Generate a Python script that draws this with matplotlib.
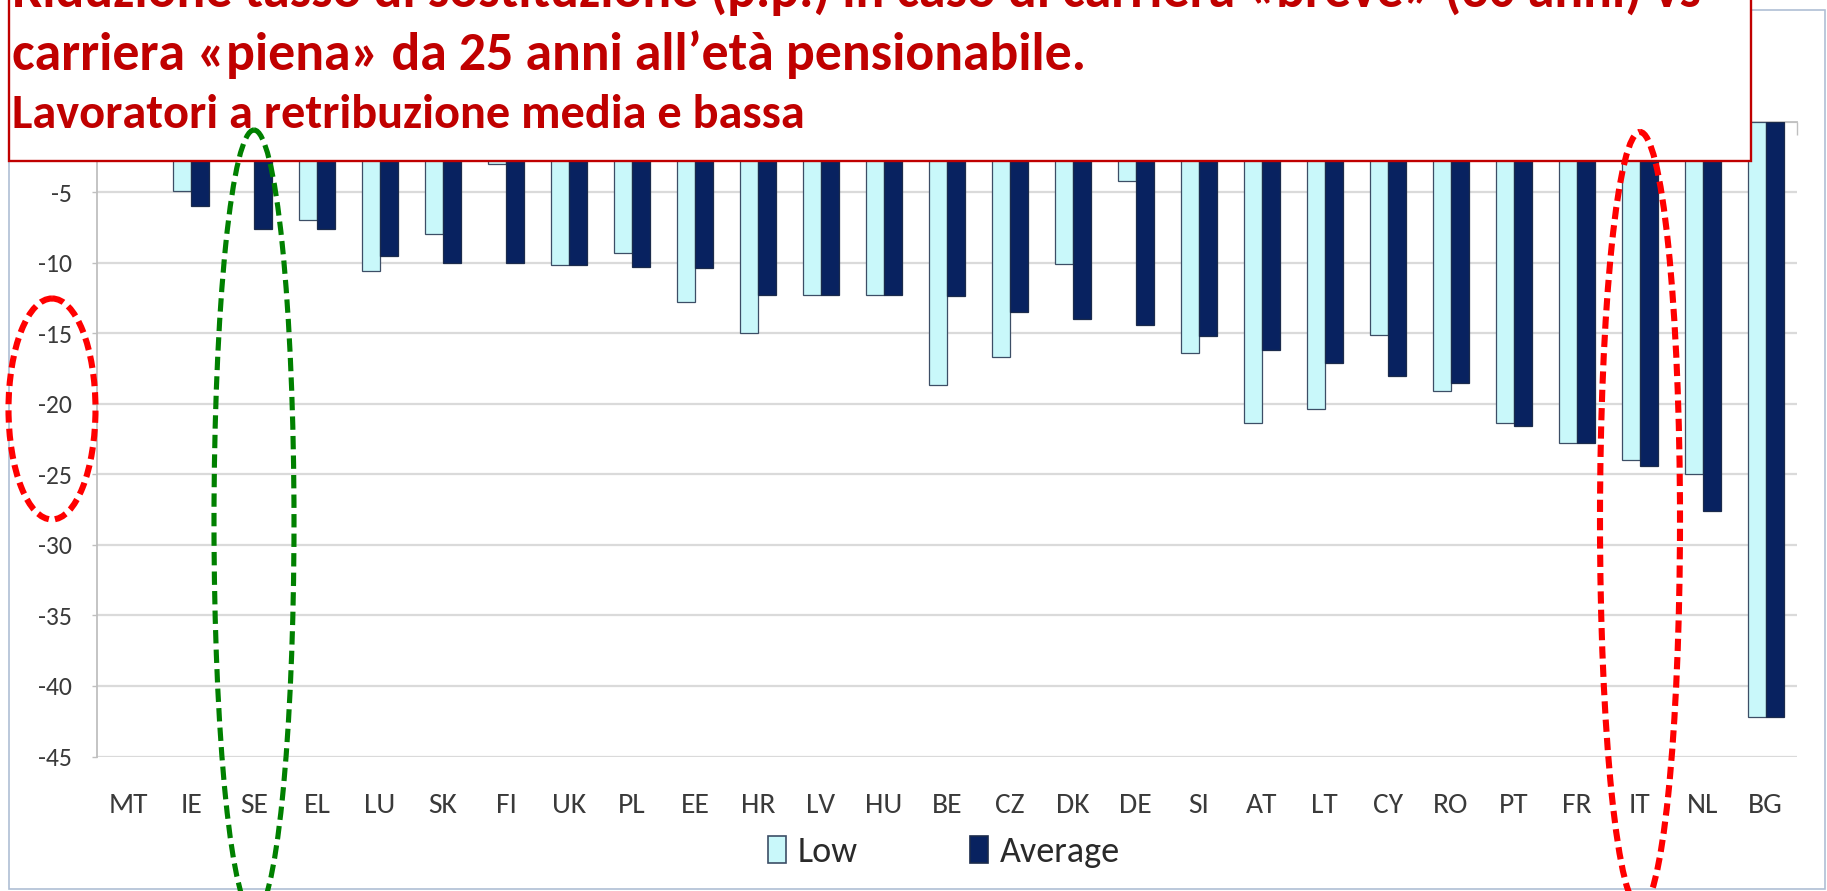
import numpy as np
import matplotlib
matplotlib.use('Agg')
import matplotlib.pyplot as plt
from matplotlib import font_manager
from matplotlib.patches import Rectangle, Ellipse, Patch

# ---------------- data ----------------
countries = ['MT', 'IE', 'SE', 'EL', 'LU', 'SK', 'FI', 'UK', 'PL', 'EE', 'HR', 'LV', 'HU', 'BE',
             'CZ', 'DK', 'DE', 'SI', 'AT', 'LT', 'CY', 'RO', 'PT', 'FR', 'IT', 'NL', 'BG']
low = [0.0, -4.9, -1.5, -7.0, -10.6, -8.0, -3.0, -10.2, -9.3, -12.8, -15.0, -12.3, -12.3, -18.7,
       -16.7, -10.1, -4.2, -16.4, -21.4, -20.4, -15.1, -19.1, -21.4, -22.8, -24.0, -25.0, -42.2]
average = [0.0, -6.0, -7.6, -7.6, -9.5, -10.0, -10.0, -10.2, -10.3, -10.4, -12.3, -12.3, -12.3, -12.4,
           -13.5, -14.0, -14.4, -15.2, -16.2, -17.1, -18.0, -18.5, -21.6, -22.8, -24.4, -27.6, -42.2]
series_names = ['Low', 'Average']
yticks = list(range(-45, 1, 5))
title_lines = ['Riduzione tasso di sostituzione (p.p.) in caso di carriera «breve» (30 anni) vs',
               'carriera «piena» da 25 anni all’età pensionabile.']
subtitle = 'Lavoratori a retribuzione media e bassa'

# ---------------- fonts ----------------
avail = {f.name for f in font_manager.fontManager.ttflist}
def pick(*names):
    for n in names:
        if n in avail:
            return n
    return 'DejaVu Sans'
BODY = pick('Carlito', 'Lato', 'Liberation Sans')
TITLE = pick('Carlito', 'Liberation Sans Narrow', 'Lato', 'Liberation Sans')

W, H = 1827, 891
fig = plt.figure(figsize=(W / 100, H / 100), dpi=100)
fig.patch.set_facecolor('white')
renderer = fig.canvas.get_renderer()

def fit_size(text, target_px, family, weight='normal', base=20.0):
    t = fig.text(0, 0, text, fontsize=base, family=[family, 'DejaVu Sans'], weight=weight)
    w = t.get_window_extent(renderer).width
    t.remove()
    return base * target_px / w

ytick_fs = fit_size('-10', 34, BODY)
xtick_fs = fit_size('BE', 30.5, BODY)
legend_fs = fit_size('Average', 120, BODY)

# ---------------- main axes ----------------
left, right, top, bottom = 96.7, 1797.0, 121.5, 756.5
ax = fig.add_axes([left / W, 1 - bottom / H, (right - left) / W, (bottom - top) / H])

LOW_FC, LOW_EC = '#C9F8FA', '#3C4E66'
AVG_FC, AVG_EC = '#082260', '#1B2B4C'
x = np.arange(len(countries))
bw = 1 / 3.5
ax.bar(x - bw / 2, low, width=bw, color=LOW_FC, edgecolor=LOW_EC, linewidth=0.9, zorder=3)
ax.bar(x + bw / 2, average, width=bw, color=AVG_FC, edgecolor=AVG_EC, linewidth=0.9, zorder=3)

ax.set_xlim(-0.5, len(countries) - 0.5)
ax.set_ylim(-45, 0)
ax.set_yticks(yticks)
ax.set_yticklabels([str(v) if v != 0 else '' for v in yticks])
ax.yaxis.grid(True, color='#DADADA', linewidth=1.6)
ax.set_axisbelow(True)

for s in ['right', 'bottom']:
    ax.spines[s].set_visible(False)
for s in ['left', 'top']:
    ax.spines[s].set_color('#BFBFBF')
    ax.spines[s].set_linewidth(1.3)

ax.set_xticks(x)
ax.set_xticklabels(countries)
ax.set_xticks(np.arange(-0.5, len(countries), 1), minor=True)
ax.tick_params(axis='x', which='major', bottom=True, top=False, length=0, pad=26,
               labelsize=xtick_fs, labelcolor='#3A3A3A')
ax.tick_params(axis='x', which='minor', bottom=False, top=True, direction='in',
               length=9.5, width=1, color='#BFBFBF')
ax.tick_params(axis='y', which='major', direction='out', length=3.6, width=1, color='#BFBFBF',
               pad=14, labelsize=ytick_fs, labelcolor='#3A3A3A')
for lab in ax.get_xticklabels() + ax.get_yticklabels():
    lab.set_family([BODY, 'DejaVu Sans'])

handles = [Patch(facecolor=LOW_FC, edgecolor=LOW_EC, linewidth=1.2, label=series_names[0]),
           Patch(facecolor=AVG_FC, edgecolor=AVG_EC, linewidth=1.2, label=series_names[1])]
leg = fig.legend(handles=handles, loc='center', bbox_to_anchor=(944 / W, 1 - 852 / H), ncol=2,
                 frameon=False, handlelength=0.5, handleheight=0.78, handletextpad=0.32,
                 columnspacing=3.1, borderpad=0, prop={'family': [BODY, 'DejaVu Sans'], 'size': legend_fs})
for t in leg.get_texts():
    t.set_color('#2A2A2A')

# ---------------- overlay (box, title, ellipses) ----------------
ov = fig.add_axes([0, 0, 1, 1], zorder=10)
ov.set_xlim(0, W)
ov.set_ylim(H, 0)
ov.axis('off')

ov.add_patch(Rectangle((9, 10), 1816, 879, fill=False, edgecolor='#AFBFD4', linewidth=1.2, zorder=1))
ov.add_patch(Rectangle((9, -10), 1751 - 9, 161 + 10, facecolor='white', edgecolor='#C00000',
                       linewidth=1.7, zorder=2))

RED_T = '#C00000'
tfam = [TITLE, 'DejaVu Sans']
fs1 = fit_size(title_lines[0], 1701 - 12, TITLE, 'bold')
fs2 = fit_size(title_lines[1], 1089 - 12, TITLE, 'bold')
fs_t = (fs1 + fs2) / 2
fs_s = fit_size(subtitle, 807 - 12, TITLE, 'bold')
ov.text(12, 7, title_lines[0], fontsize=fs_t, family=tfam, weight='bold', color=RED_T,
        ha='left', va='baseline', zorder=3)
ov.text(12, 70, title_lines[1], fontsize=fs_t, family=tfam, weight='bold', color=RED_T,
        ha='left', va='baseline', zorder=3)
ov.text(12, 128, subtitle, fontsize=fs_s, family=tfam, weight='bold', color=RED_T,
        ha='left', va='baseline', zorder=3)

ov.add_patch(Ellipse((52, 409), 87, 221, fill=False, edgecolor='#FF0000', linewidth=4.4,
                     linestyle=(0, (2.0, 1.0)), zorder=5))
ov.add_patch(Ellipse((254, 522), 80, 784, fill=False, edgecolor='#008000', linewidth=3.7,
                     linestyle=(0, (2.6, 1.2)), zorder=5))
ov.add_patch(Ellipse((1640, 520), 80, 776, fill=False, edgecolor='#FF0000', linewidth=4.4,
                     linestyle=(0, (2.0, 1.0)), zorder=5))

fig.savefig('out.png', dpi=100, facecolor='white')
